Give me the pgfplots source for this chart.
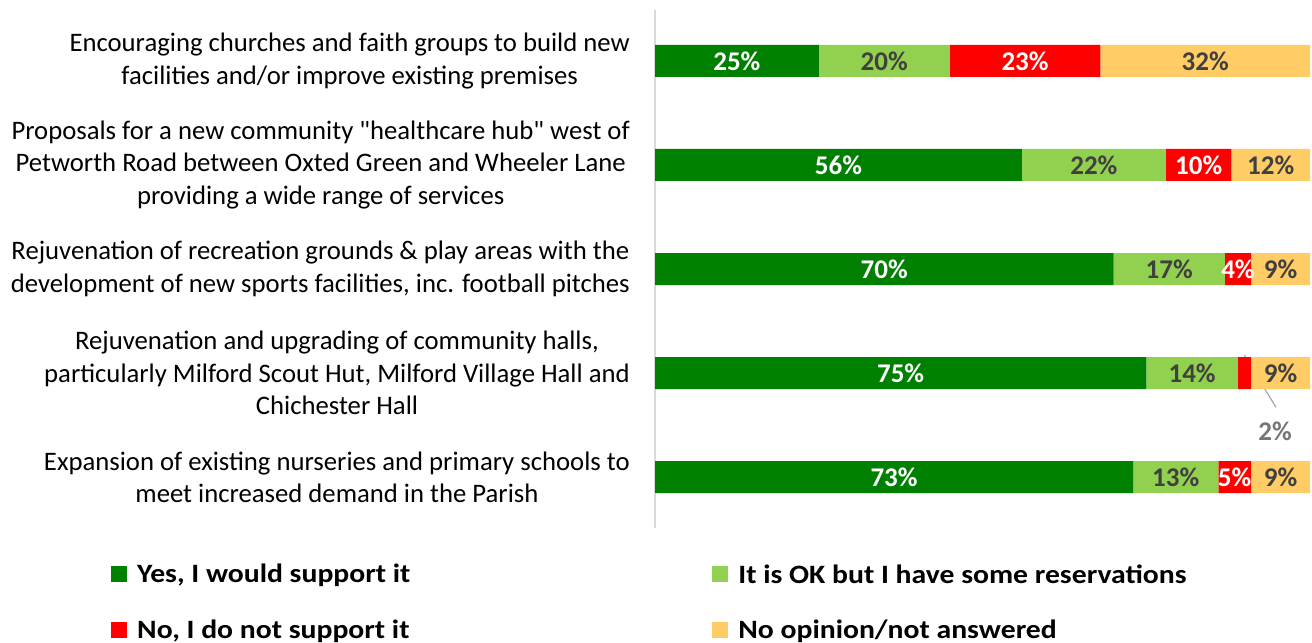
\documentclass[border=0pt]{standalone}
\usepackage{graphicx}
\usepackage{pgfplots}
\pgfplotsset{compat=1.18}
\usepackage{fontspec}
\setmainfont{Carlito}[Ligatures=TeXOff]
\definecolor{cyes}{RGB}{0,128,0}
\definecolor{cok}{RGB}{146,208,80}
\definecolor{cno}{RGB}{255,0,0}
\definecolor{cna}{RGB}{255,204,102}
\definecolor{dtext}{RGB}{64,64,64}
\definecolor{labgray}{RGB}{118,118,118}
\definecolor{leadgray}{RGB}{166,166,166}
\definecolor{axgray}{RGB}{217,217,217}
\tikzset{barlab/.style={font=\bfseries\fontsize{27bp}{27bp}\selectfont, anchor=center}}
\newcommand{\legtxt}[1]{\scalebox{1.12}[1]{#1}}
\begin{document}
\begin{tikzpicture}
\useasboundingbox (0,0) rectangle (1312bp,643bp);
\begin{axis}[
  at={(655bp,115bp)}, anchor=south west,
  scale only axis, width=655bp, height=518bp,
  xbar stacked, bar width=32bp,
  xmin=0, xmax=100, ymin=-0.49, ymax=4.49, y dir=reverse,
  clip=false,
  axis x line=none, axis y line*=left,
  y axis line style={draw=axgray, line width=1.5bp, -},
  ytick={0,1,2,3,4}, major tick length=0pt,
  yticklabels={
    {Encouraging churches and faith groups to build new\\facilities and/or improve existing premises},
    {Proposals for a new community "healthcare hub" west of\\Petworth Road between Oxted Green and Wheeler Lane\\providing a wide range of services},
    {Rejuvenation of recreation grounds \& play areas with the\\development of new sports facilities, inc. football pitches},
    {Rejuvenation and upgrading of community halls,\\particularly Milford Scout Hut, Milford Village Hall and\\Chichester Hall},
    {Expansion of existing nurseries and primary schools to\\meet increased demand in the Parish}},
  yticklabel style={align=center, font=\fontsize{26.7bp}{32.3bp}\selectfont, text=black, inner xsep=0pt, xshift=-25bp},
  point meta=explicit symbolic,
  nodes near coords={\pgfplotspointmeta\%},
  legend style={draw=none, fill=none, at={(-0.8305,-0.066)}, anchor=north west,
    font=\bfseries\fontsize{26.5bp}{26.5bp}\selectfont, inner sep=0pt, row sep=31bp,
    /tikz/every even column/.append style={column sep=300bp}},
  legend columns=2, legend cell align=left,
]
\addplot[fill=cyes, draw=none, every node near coord/.style={barlab, text=white},
  legend image code/.code={\fill[cyes] (0bp,-8bp) rectangle (16bp,8bp); \path (24bp,0bp);}]
  coordinates {(25,0)[25] (56,1)[56] (70,2)[70] (75,3)[75] (73,4)[73]};
\addplot[fill=cok, draw=none, every node near coord/.style={barlab, text=dtext},
  legend image code/.code={\fill[cok] (0bp,-8bp) rectangle (16bp,8bp); \path (24bp,0bp);}]
  coordinates {(20,0)[20] (22,1)[22] (17,2)[17] (14,3)[14] (13,4)[13]};
\addplot[fill=cno, draw=none, every node near coord/.style={barlab, text=white},
  nodes near coords={\ifnum\pgfplotspointmeta=2 \else\pgfplotspointmeta\%\fi},
  legend image code/.code={\fill[cno] (0bp,-8bp) rectangle (16bp,8bp); \path (24bp,0bp);}]
  coordinates {(23,0)[23] (10,1)[10] (4,2)[4] (2,3)[2] (5,4)[5]};
\addplot[fill=cna, draw=none, every node near coord/.style={barlab, text=dtext},
  legend image code/.code={\fill[cna] (0bp,-8bp) rectangle (16bp,8bp); \path (24bp,0bp);}]
  coordinates {(32,0)[32] (12,1)[12] (9,2)[9] (9,3)[9] (9,4)[9]};
\draw[leadgray, line width=1.2bp] (axis cs:90.0,2.83) -- (axis cs:94.8,3.33);
\node[text=labgray, font=\bfseries\fontsize{27bp}{27bp}\selectfont] at (axis cs:94.66,3.556) {2\%};
\legend{{\legtxt{Yes, I would support it}},{\legtxt{It is OK but I have some reservations}},{\legtxt{No, I do not support it}},{\legtxt{No opinion/not answered}}}
\end{axis}
\end{tikzpicture}
\end{document}
